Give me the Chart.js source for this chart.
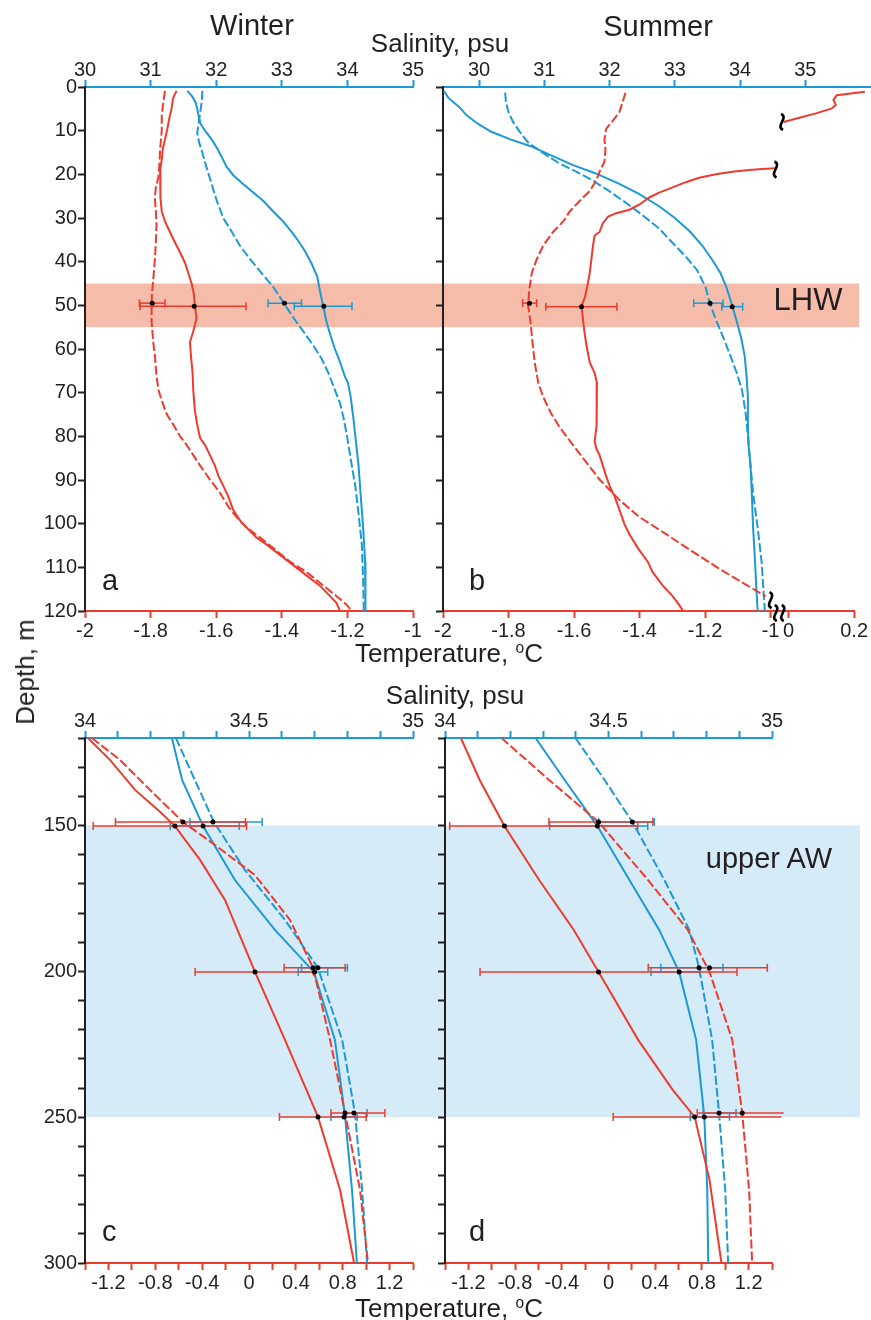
<!DOCTYPE html>
<html>
<head>
<meta charset="utf-8">
<title>Winter / Summer profiles</title>
<script src="https://cdn.jsdelivr.net/npm/chart.js"></script>
<style>
  body { margin: 0; background: #fff; }
  #wrap { position: relative; width: 871px; height: 1320px; font-family: "Liberation Sans", Arial, sans-serif; color: #231f20; overflow: hidden; }
  canvas { position: absolute; }
  .t { position: absolute; white-space: nowrap; line-height: 1; }
  .c { transform: translateX(-50%); }
  sup { font-size: 0.6em; vertical-align: 0.6em; line-height: 0; }
</style>
</head>
<body>
<div id="wrap">
  <canvas id="pa" width="443" height="650" style="left:0;top:0"></canvas>
  <canvas id="pb" width="451" height="650" style="left:420px;top:0"></canvas>
  <canvas id="pc" width="445" height="670" style="left:0;top:650px"></canvas>
  <canvas id="pd" width="451" height="670" style="left:420px;top:650px"></canvas>

  <div class="t c" style="font-size:29px;left:252px;top:11px">Winter</div>
  <div class="t c" style="font-size:29px;left:658px;top:12px">Summer</div>
  <div class="t c" style="font-size:26px;left:440px;top:30px">Salinity, psu</div>
  <div class="t c" style="font-size:26px;left:449px;top:640px">Temperature, <sup>o</sup>C</div>
  <div class="t c" style="font-size:26px;left:455px;top:682px">Salinity, psu</div>
  <div class="t c" style="font-size:26px;left:449px;top:1295px">Temperature, <sup>o</sup>C</div>
  <div class="t" style="font-size:26px;left:25px;top:672px;transform:translate(-50%,-50%) rotate(-90deg)">Depth, m</div>
  <div class="t c" style="font-size:31px;left:808px;top:284px">LHW</div>
  <div class="t c" style="font-size:29px;left:769px;top:844px">upper AW</div>
  <div class="t" style="font-size:29px;left:102px;top:566px">a</div>
  <div class="t" style="font-size:29px;left:469px;top:566px">b</div>
  <div class="t" style="font-size:29px;left:102px;top:1217px">c</div>
  <div class="t" style="font-size:29px;left:469px;top:1217px">d</div>
</div>
<script>
// ---------- panel a : winter, 0-120 m ----------
const aDepthT1 = [0.9, 2.5, 4.9, 7.2, 9.6, 12, 14.3, 16.7, 19, 22.2, 25.3, 28.5, 30.8, 32.4, 34, 36.3, 37.9, 40.3, 42.6, 45, 47.4, 50.1, 52.9, 56, 58.4, 61.5, 65.5, 69.4, 74.1, 77.3, 80.4, 82, 84.3, 86.7, 89.1, 91.4, 93.8, 96.9, 99.3, 100.9, 103.2, 104.8, 107.2, 109.5, 111.9, 114.2, 116.6, 118.2, 120];
const aTemp1 = [-1.721, -1.731, -1.736, -1.743, -1.749, -1.756, -1.763, -1.766, -1.771, -1.771, -1.769, -1.766, -1.756, -1.746, -1.736, -1.721, -1.710, -1.695, -1.685, -1.675, -1.668, -1.665, -1.660, -1.670, -1.680, -1.677, -1.672, -1.670, -1.665, -1.658, -1.649, -1.634, -1.619, -1.604, -1.593, -1.578, -1.563, -1.548, -1.527, -1.507, -1.477, -1.446, -1.405, -1.365, -1.324, -1.284, -1.253, -1.233, -1.223];
const aDepthT2 = [0.9, 3.3, 6.5, 10, 14.3, 17.5, 20.6, 23, 25.3, 28.5, 31.6, 35.6, 39.5, 44.2, 47.4, 50.5, 53.7, 58.4, 61.5, 66.2, 69.4, 71.8, 74.9, 77.3, 80, 82, 84.3, 86.7, 89.9, 93, 96.1, 98.5, 100.9, 103.2, 105.6, 108.7, 111.1, 114.2, 116.6, 118.6, 120];
const aTemp2 = [-1.756, -1.761, -1.766, -1.766, -1.771, -1.773, -1.776, -1.784, -1.787, -1.784, -1.782, -1.784, -1.787, -1.792, -1.796, -1.797, -1.797, -1.792, -1.787, -1.782, -1.776, -1.766, -1.751, -1.731, -1.710, -1.690, -1.670, -1.649, -1.619, -1.588, -1.563, -1.538, -1.507, -1.466, -1.426, -1.375, -1.324, -1.273, -1.233, -1.202, -1.187];
const aDepthS1 = [0.9, 2.1, 3.3, 4.9, 6.5, 8.4, 10, 12, 13.9, 15.9, 18.3, 20.2, 22.2, 24.2, 26.1, 28.5, 30.8, 33.2, 35.2, 37.5, 40.3, 43.4, 46.6, 50.1, 53.7, 56.8, 60, 63.1, 66.2, 67.8, 71, 75.7, 81.2, 86.7, 93, 100.9, 108.7, 114.2, 120];
const aSal1 = [31.56, 31.63, 31.68, 31.71, 31.73, 31.76, 31.83, 31.93, 32.01, 32.08, 32.16, 32.26, 32.41, 32.57, 32.72, 32.87, 33.02, 33.15, 33.25, 33.35, 33.45, 33.54, 33.58, 33.63, 33.68, 33.74, 33.81, 33.89, 33.96, 34.01, 34.05, 34.09, 34.13, 34.17, 34.20, 34.24, 34.27, 34.28, 34.27];
const aDepthS2 = [0.9, 3.3, 6.5, 8.8, 10.4, 12.7, 15.1, 18.3, 22.2, 26.1, 30.1, 33.2, 36.3, 39.5, 42.6, 45.8, 49.7, 52.9, 56, 59.2, 62.3, 65.5, 69.4, 72.5, 75.7, 79.6, 85.1, 91.4, 97.7, 104.8, 112.7, 120];
const aSal2 = [31.79, 31.78, 31.75, 31.73, 31.71, 31.74, 31.79, 31.85, 31.93, 32.01, 32.11, 32.24, 32.36, 32.52, 32.69, 32.87, 33.04, 33.18, 33.33, 33.48, 33.61, 33.71, 33.81, 33.89, 33.94, 33.99, 34.05, 34.12, 34.17, 34.22, 34.24, 34.25];
// error bars at 50 m: [dashed, solid]
const aErrDepth = [49.5, 50.2];
const aTempMean = [-1.795, -1.667], aTempLo = [-1.834, -1.832], aTempHi = [-1.756, -1.509];
const aSalMean = [33.04, 33.64], aSalLo = [32.79, 33.19], aSalHi = [33.30, 34.07];

// ---------- panel b : summer, 0-120 m ----------
const bDepthT1a = [1.1, 1.9, 2.9, 4.1, 4.9, 6.1, 7.1, 8];
const bTemp1a = [0.233, 0.147, 0.137, 0.144, 0.132, 0.081, 0.030, -0.015];
const bDepthT1b = [18.6, 18.8, 19, 19.4, 20, 20.8, 21.8, 23, 24.2, 25.3, 26.9, 28.1, 28.9, 29.7, 31.2, 33.2, 34, 36.3, 39.5, 42.6, 45.8, 48.2, 50.1, 53.7, 56.8, 60, 63.1, 65.5, 67.8, 73.3, 77.3, 81.2, 82.8, 84.3, 86.7, 89.1, 91.4, 93.8, 96.9, 100.1, 102.4, 105.6, 108.7, 111.1, 114.2, 116.6, 118.6, 120];
const bTemp1b = [-0.985, -1.026, -1.066, -1.117, -1.167, -1.218, -1.259, -1.299, -1.340, -1.370, -1.400, -1.431, -1.471, -1.496, -1.512, -1.522, -1.537, -1.542, -1.547, -1.552, -1.560, -1.567, -1.577, -1.572, -1.567, -1.560, -1.552, -1.537, -1.530, -1.530, -1.532, -1.537, -1.532, -1.522, -1.512, -1.502, -1.491, -1.476, -1.461, -1.446, -1.431, -1.405, -1.375, -1.360, -1.329, -1.299, -1.279, -1.267];
const bDepthT2 = [1.3, 3.3, 5.7, 7.2, 9.6, 12, 14.3, 17.1, 19.4, 21.4, 23.8, 26.1, 28.5, 30.8, 33.2, 36.3, 39.5, 42.6, 46.6, 50.1, 53.7, 58.4, 63.1, 67.8, 71, 74.9, 78, 82, 85.9, 89.9, 94.6, 98.5, 102.4, 106.4, 110.3, 113.5, 116.6];
const bTemp2 = [-1.443, -1.451, -1.461, -1.476, -1.502, -1.507, -1.504, -1.507, -1.522, -1.532, -1.552, -1.583, -1.613, -1.633, -1.664, -1.694, -1.714, -1.729, -1.737, -1.740, -1.733, -1.727, -1.720, -1.709, -1.694, -1.669, -1.643, -1.603, -1.563, -1.522, -1.461, -1.400, -1.319, -1.238, -1.157, -1.086, -1.015];
const bDepthS1 = [0.9, 2.5, 4.5, 6.5, 8.4, 10.2, 12, 13.5, 15.5, 17.9, 19.8, 22.2, 24.5, 27.3, 30.1, 33.2, 36.3, 39.5, 42.6, 45.8, 50.1, 53.7, 57.6, 61.5, 66.2, 71, 77.3, 82, 86.7, 93, 100.9, 108.7, 115, 120];
const bSal1 = [29.46, 29.53, 29.69, 29.81, 29.98, 30.18, 30.48, 30.78, 31.08, 31.44, 31.79, 32.15, 32.45, 32.76, 33.01, 33.24, 33.42, 33.57, 33.70, 33.79, 33.88, 33.95, 34.02, 34.07, 34.10, 34.12, 34.12, 34.13, 34.16, 34.18, 34.20, 34.23, 34.25, 34.27];
const bDepthS2 = [1.3, 3.3, 5.7, 8, 10.4, 12.7, 15.1, 17.5, 19.4, 21.4, 23.8, 26.5, 29.3, 32.4, 35.6, 38.7, 41.9, 45.8, 49.7, 53.7, 57.6, 61.5, 65.5, 69.4, 74.1, 79.6, 85.1, 93, 100.9, 108.7, 120];
const bSal2 = [30.40, 30.41, 30.45, 30.52, 30.63, 30.75, 30.98, 31.23, 31.49, 31.74, 31.99, 32.25, 32.50, 32.76, 32.96, 33.16, 33.34, 33.47, 33.54, 33.64, 33.75, 33.85, 33.95, 34.03, 34.08, 34.12, 34.15, 34.20, 34.27, 34.33, 34.38];
const bErrDepth = [49.5, 50.3];
const bTempMean = [-1.736, -1.577], bTempLo = [-1.757, -1.686], bTempHi = [-1.714, -1.469];
const bSalMean = [33.54, 33.88], bSalLo = [33.29, 33.72], bSalHi = [33.74, 34.04];
// axis-break marks (temperature, depth)
const bBreakT = [-0.965, -0.985, -1.0];
const bBreakD = [8, 18.9, 117.5];

// ---------- panel c : winter, 120-300 m ----------
const cDepthT1 = [120, 127.5, 137.8, 145.3, 150.2, 161.8, 175.5, 200.2, 223.5, 249.9, 274.9, 300];
const cTemp1 = [-1.375, -1.187, -0.973, -0.760, -0.632, -0.418, -0.205, 0.051, 0.307, 0.589, 0.777, 0.897];
const cDepthT2 = [120, 127.5, 137.8, 148.8, 156.7, 167, 182.4, 198.8, 223.5, 248.6, 275, 300];
const cTemp2 = [-1.341, -1.102, -0.845, -0.564, -0.290, 0.051, 0.350, 0.547, 0.692, 0.820, 0.948, 1.016];
const cDepthS1 = [120, 134.4, 150.2, 168.7, 185.8, 200.2, 223.5, 249.9, 274.9, 300];
const cSal1 = [34.265, 34.296, 34.360, 34.457, 34.579, 34.698, 34.762, 34.793, 34.814, 34.829];
const cDepthS2 = [120, 134.4, 148.8, 165.3, 182.4, 198.8, 223.5, 248.6, 275, 300];
const cSal2 = [34.277, 34.335, 34.393, 34.488, 34.610, 34.710, 34.784, 34.823, 34.845, 34.860];
// error bars: [solid 150, dashed 150, solid 200, dashed 200, solid 250, dashed 250]
const cErrDepth = [150.2, 148.8, 200.2, 198.8, 249.9, 248.6];
const cTempMean = [-0.632, -0.564, 0.051, 0.547, 0.589, 0.820];
const cTempLo = [-1.33, -1.14, -0.46, 0.30, 0.26, 0.70];
const cTempHi = [-0.02, -0.03, 0.55, 0.82, 1.00, 1.16];
const cSalMean = [34.36, 34.39, 34.70, 34.71, 34.79, 34.82];
const cSalLo = [34.26, 34.32, 34.65, 34.66, 34.75, 34.79];
const cSalHi = [34.47, 34.54, 34.74, 34.80, 34.83, 34.86];

// ---------- panel d : summer, 120-300 m ----------
const dDepthT1 = [120, 134.4, 150.2, 168.7, 185.8, 200.2, 223.5, 240.7, 249.9, 271.5, 300];
const dTemp1 = [-1.264, -1.103, -0.891, -0.594, -0.297, -0.085, 0.254, 0.551, 0.738, 0.865, 0.967];
const dDepthT2 = [120, 134.4, 148.8, 168.7, 185.8, 200.2, 223.5, 248.6, 275, 300];
const dTemp2 = [-0.916, -0.509, -0.085, 0.339, 0.679, 0.865, 1.060, 1.145, 1.204, 1.230];
const dDepthS1 = [120, 134.4, 150.2, 168.7, 185.8, 200.2, 223.5, 249.9, 274.9, 300];
const dSal1 = [34.277, 34.366, 34.466, 34.564, 34.655, 34.716, 34.768, 34.793, 34.802, 34.805];
const dDepthS2 = [120, 134.4, 148.8, 168.7, 185.8, 198.8, 223.5, 248.6, 275, 300];
const dSal2 = [34.399, 34.488, 34.573, 34.671, 34.747, 34.777, 34.817, 34.838, 34.857, 34.866];
const dErrDepth = [150.2, 148.8, 200.2, 198.8, 249.9, 248.6];
const dTempMean = [-0.891, -0.085, -0.085, 0.865, 0.738, 1.145];
const dTempLo = [-1.36, -0.51, -1.10, 0.34, 0.04, 0.76];
const dTempHi = [0.25, 0.38, 1.10, 1.36, 1.48, 1.50];
const dSalMean = [34.466, 34.573, 34.716, 34.777, 34.793, 34.838];
const dSalLo = [34.32, 34.47, 34.63, 34.66, 34.75, 34.79];
const dSalHi = [34.62, 34.64, 34.78, 34.85, 34.87, 34.89];

// ---------- bands and ticks ----------
const lhwBand = [45, 55];
const awBand = [150, 250];
const depthTicksTop = [0, 10, 20, 30, 40, 50, 60, 70, 80, 90, 100, 110, 120];
const depthTicksDeep = [120, 130, 140, 150, 160, 170, 180, 190, 200, 210, 220, 230, 240, 250, 260, 270, 280, 290, 300];
const depthLabelsDeep = [150, 200, 250, 300];
const tempTicksA = [-2, -1.8, -1.6, -1.4, -1.2, -1];
const tempTicksB = [-2, -1.8, -1.6, -1.4, -1.2, -1, 0, 0.2];
const salTicksTop = [30, 31, 32, 33, 34, 35];
const tempTicksDeep = [-1.4, -1.2, -1, -0.8, -0.6, -0.4, -0.2, 0, 0.2, 0.4, 0.6, 0.8, 1, 1.2, 1.4];
const tempLabelsDeep = [-1.2, -0.8, -0.4, 0, 0.4, 0.8, 1.2];
const salTicksDeep = [34, 34.1, 34.2, 34.3, 34.4, 34.5, 34.6, 34.7, 34.8, 34.9, 35];
const salLabelsDeep = [34, 34.5, 35];

const RED = '#ee3b2e', BLUE = '#1b9ad6', INK = '#231f20';
const LHW_FILL = '#f6bcaa', AW_FILL = '#d5ebf8';

Chart.defaults.font.family = '"Liberation Sans", Arial, sans-serif';
Chart.defaults.font.size = 20;
Chart.defaults.color = INK;
Chart.defaults.plugins.legend.display = false;
Chart.defaults.plugins.tooltip.enabled = false;

// panel b has a broken temperature axis: values above -0.5 are shifted left
const tb = t => (t > -0.5 ? t - 0.945 : t);
const tbInv = v => (v > -0.96 ? v + 0.945 : v);
const num = v => String(Math.round(v * 100) / 100);
const has = (list, v) => list.some(u => Math.abs(u - v) < 1e-6);

function pts(vals, depths, f) {
  return depths.map((d, i) => ({ x: f ? f(vals[i]) : vals[i], y: d }));
}
function curve(vals, depths, color, dashed, f) {
  return {
    data: pts(vals, depths, f), showLine: true, borderColor: color, borderWidth: 2,
    borderDash: dashed ? [9, 3] : [], pointRadius: 0, xAxisID: color === RED ? 'x' : 'x2',
    order: 3, clip: { left: 0, top: 0, right: 16, bottom: 0 }
  };
}
function errors(mean, lo, hi, depths, color, f) {
  const axis = color === RED ? 'x' : 'x2';
  const g = v => (f ? f(v) : v);
  const out = [];
  depths.forEach((d, i) => {
    out.push({
      data: [{ x: g(lo[i]), y: d }, { x: g(hi[i]), y: d }], showLine: true,
      borderColor: color, borderWidth: 1.5, pointStyle: 'line', pointRadius: 4, pointRotation: 90,
      pointBorderColor: color, pointBorderWidth: 1.5, xAxisID: axis, order: 2, clip: false
    });
    out.push({
      data: [{ x: g(mean[i]), y: d }], pointRadius: 2.5, pointBackgroundColor: '#000',
      pointBorderColor: '#000', pointBorderWidth: 0, xAxisID: axis, order: 1
    });
  });
  return out;
}
function axis(pos, color, min, max, ticks, label, size) {
  return {
    type: 'linear', position: pos, min: min, max: max, reverse: pos === 'left',
    afterBuildTicks: s => { s.ticks = ticks.map(v => ({ value: v })); },
    afterFit: s => { if (pos === 'left') s.width = size; else s.height = size; },
    ticks: {
      autoSkip: false, maxRotation: 0, color: INK, font: { size: 20, lineHeight: 1 },
      padding: pos === 'bottom' ? 3 : (pos === 'top' ? 0 : 1), callback: label
    },
    grid: { drawOnChartArea: false, tickLength: 7, tickWidth: 2, color: color },
    border: { color: color, width: 2 }
  };
}

function wiggle(ctx, x, y) {
  ctx.beginPath();
  ctx.moveTo(x - 1, y - 8);
  ctx.bezierCurveTo(x + 7, y - 4, x - 7, y + 4, x + 1, y + 8);
  ctx.stroke();
}

const decor = {
  id: 'decor',
  beforeDraw(chart, args, o) {
    const { ctx, chartArea: a, scales } = chart;
    (o.bands || []).forEach(b => {
      const y0 = scales.y.getPixelForValue(b.range[0]);
      const y1 = scales.y.getPixelForValue(b.range[1]);
      ctx.save();
      ctx.fillStyle = b.color;
      ctx.fillRect(a.left, y0, o.bandRight - a.left, y1 - y0);
      ctx.restore();
    });
  },
  afterDraw(chart, args, o) {
    const { ctx, chartArea: a, scales } = chart;
    ctx.save();
    if (o.extendTop) {
      ctx.strokeStyle = BLUE; ctx.lineWidth = 2;
      ctx.beginPath(); ctx.moveTo(a.right, a.top); ctx.lineTo(chart.width, a.top); ctx.stroke();
    }
    ctx.strokeStyle = '#000'; ctx.lineWidth = 2.6;
    (o.breakT || []).forEach((t, i) => {
      wiggle(ctx, scales.x.getPixelForValue(t), scales.y.getPixelForValue(o.breakD[i]));
    });
    if (o.axisBreak !== undefined) {
      const x = scales.x.getPixelForValue(o.axisBreak);
      wiggle(ctx, x - 3, a.bottom + 2);
      wiggle(ctx, x + 4, a.bottom + 2);
    }
    ctx.restore();
  }
};

function panel(id, datasets, scales, pad, decorOpts) {
  return new Chart(document.getElementById(id), {
    type: 'scatter',
    data: { datasets: datasets },
    options: {
      responsive: false, animation: false, devicePixelRatio: 1,
      layout: { padding: pad },
      scales: scales,
      plugins: { decor: decorOpts }
    },
    plugins: [decor]
  });
}

// panel a
panel('pa', [
  ...errors(aTempMean, aTempLo, aTempHi, aErrDepth, RED),
  ...errors(aSalMean, aSalLo, aSalHi, aErrDepth, BLUE),
  curve(aTemp1, aDepthT1, RED, false),
  curve(aTemp2, aDepthT2, RED, true),
  curve(aSal1, aDepthS1, BLUE, false),
  curve(aSal2, aDepthS2, BLUE, true)
], {
  x: axis('bottom', RED, -2, -1, tempTicksA, v => num(v), 39),
  x2: axis('top', BLUE, 30, 35, salTicksTop, v => num(v), 87),
  y: axis('left', INK, 0, 120, depthTicksTop, v => num(v), 85)
}, { left: 0, right: 30, top: 0, bottom: 0 },
{ bands: [{ range: lhwBand, color: LHW_FILL }], bandRight: 443 });

// panel b
panel('pb', [
  ...errors(bTempMean, bTempLo, bTempHi, bErrDepth, RED),
  ...errors(bSalMean, bSalLo, bSalHi, bErrDepth, BLUE),
  curve(bTemp1a, bDepthT1a, RED, false, tb),
  curve(bTemp1b, bDepthT1b, RED, false, tb),
  curve(bTemp2, bDepthT2, RED, true, tb),
  curve(bSal1, bDepthS1, BLUE, false),
  curve(bSal2, bDepthS2, BLUE, true)
], {
  x: axis('bottom', RED, -2, tb(0.2), tempTicksB.map(tb), v => num(tbInv(v)), 39),
  x2: axis('top', BLUE, 29.447, 35.748, salTicksTop, v => num(v), 87),
  y: axis('left', INK, 0, 120, depthTicksTop, () => '', 23)
}, { left: 0, right: 14, top: 0, bottom: 0 },
{ bands: [{ range: lhwBand, color: LHW_FILL }], bandRight: 439, extendTop: true,
  breakT: bBreakT, breakD: bBreakD, axisBreak: -0.975 });

// panel c
panel('pc', [
  ...errors(cTempMean, cTempLo, cTempHi, cErrDepth, RED),
  ...errors(cSalMean, cSalLo, cSalHi, cErrDepth, BLUE),
  curve(cTemp1, cDepthT1, RED, false),
  curve(cTemp2, cDepthT2, RED, true),
  curve(cSal1, cDepthS1, BLUE, false),
  curve(cSal2, cDepthS2, BLUE, true)
], {
  x: axis('bottom', RED, -1.4, 1.4, tempTicksDeep, v => (has(tempLabelsDeep, v) ? num(v) : ''), 57),
  x2: axis('top', BLUE, 34, 35, salTicksDeep, v => (has(salLabelsDeep, v) ? num(v) : ''), 88),
  y: axis('left', INK, 120, 300, depthTicksDeep, v => (has(depthLabelsDeep, v) ? num(v) : ''), 85)
}, { left: 0, right: 32, top: 0, bottom: 0 },
{ bands: [{ range: awBand, color: AW_FILL }], bandRight: 445 });

// panel d
panel('pd', [
  ...errors(dTempMean, dTempLo, dTempHi, dErrDepth, RED),
  ...errors(dSalMean, dSalLo, dSalHi, dErrDepth, BLUE),
  curve(dTemp1, dDepthT1, RED, false),
  curve(dTemp2, dDepthT2, RED, true),
  curve(dSal1, dDepthS1, BLUE, false),
  curve(dSal2, dDepthS2, BLUE, true)
], {
  x: axis('bottom', RED, -1.4, 1.4, tempTicksDeep, v => (has(tempLabelsDeep, v) ? num(v) : ''), 57),
  x2: axis('top', BLUE, 34, 35, salTicksDeep, v => (has(salLabelsDeep, v) ? num(v) : ''), 88),
  y: axis('left', INK, 120, 300, depthTicksDeep, () => '', 25)
}, { left: 0, right: 99, top: 0, bottom: 0 },
{ bands: [{ range: awBand, color: AW_FILL }], bandRight: 440 });
</script>
</body>
</html>
